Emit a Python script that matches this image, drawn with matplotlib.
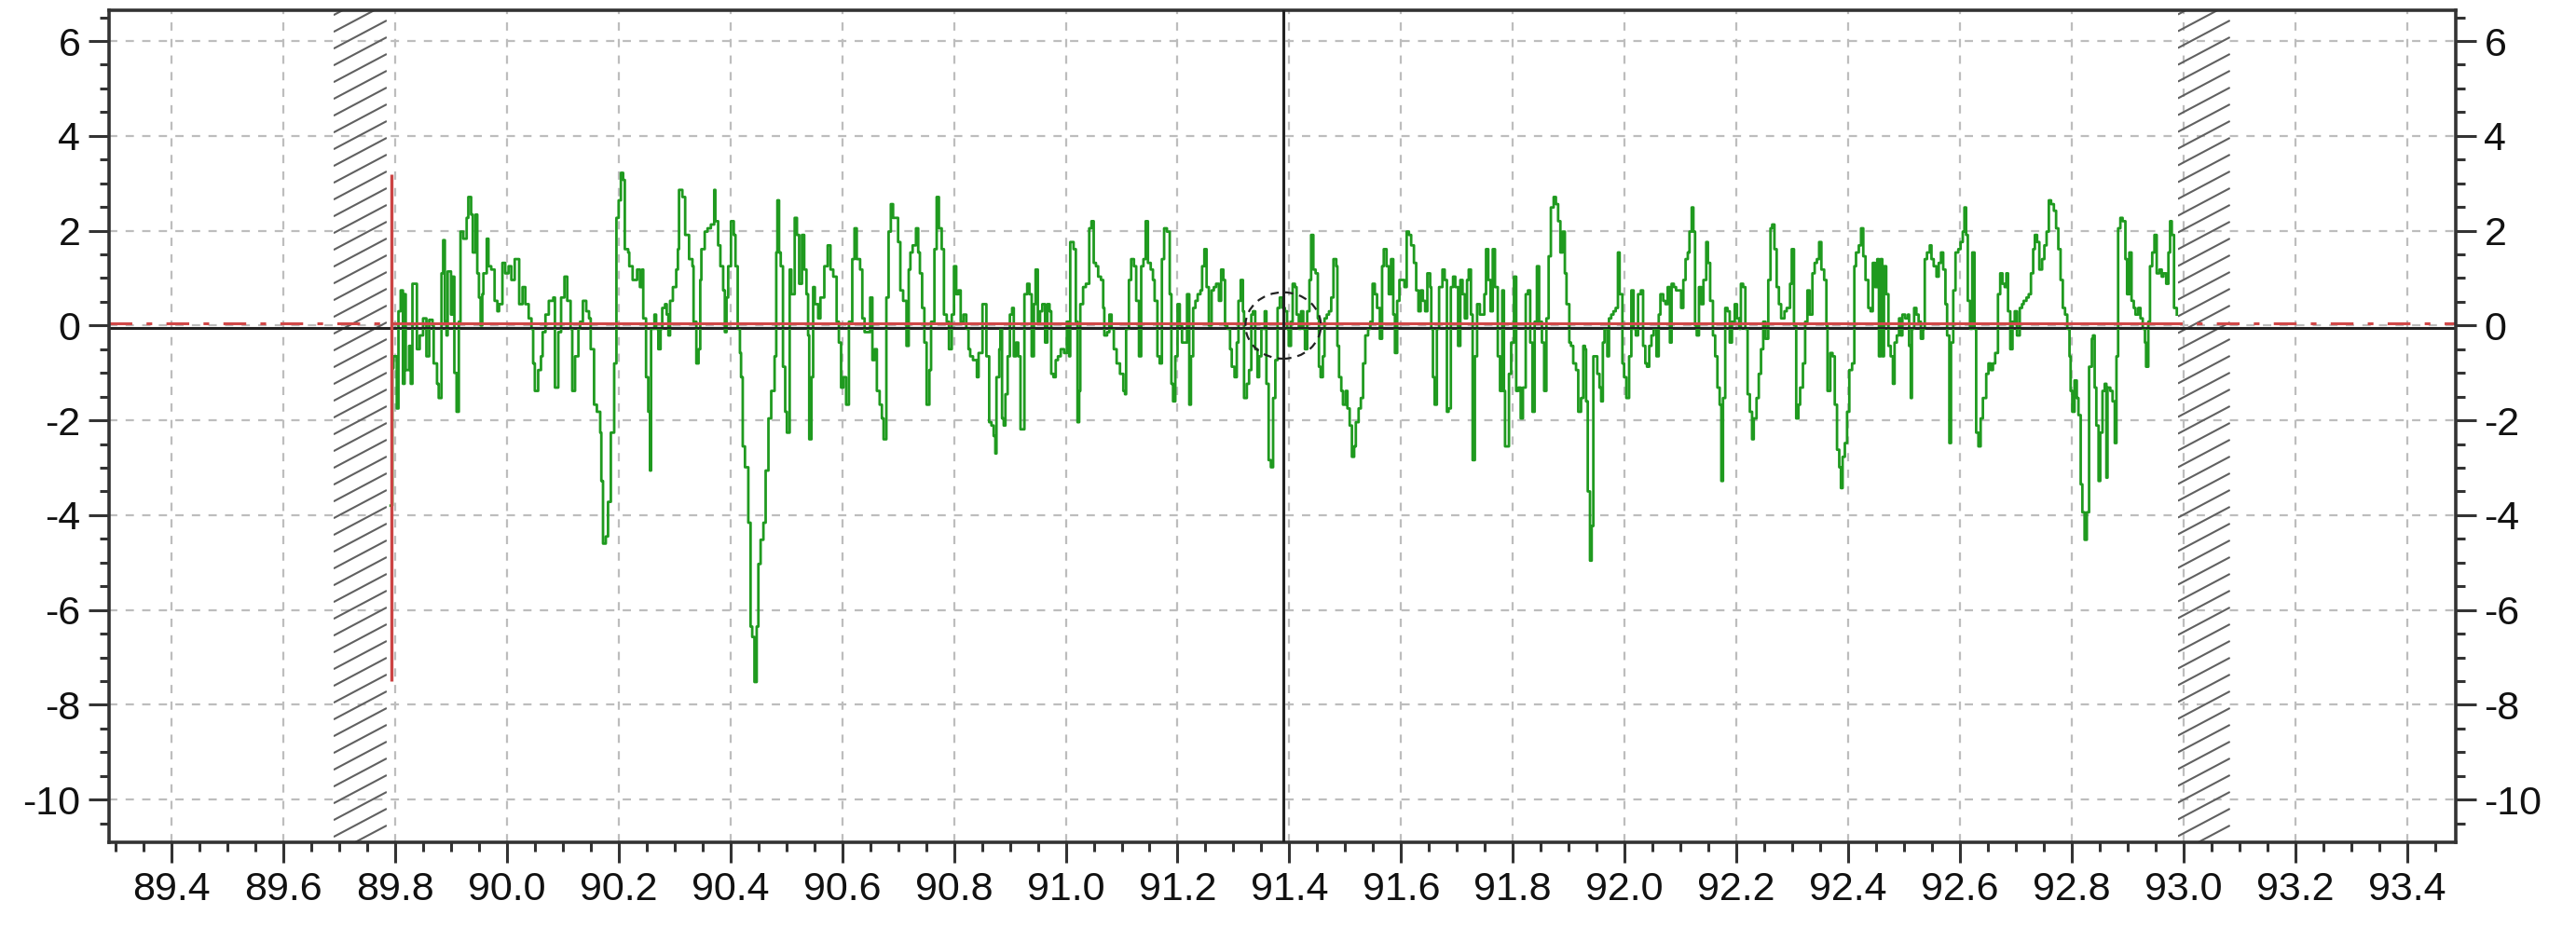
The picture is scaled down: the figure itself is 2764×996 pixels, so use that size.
import matplotlib
matplotlib.use("Agg")
import numpy as np
import matplotlib.pyplot as plt
from matplotlib.patches import Ellipse, Rectangle
from matplotlib.collections import LineCollection
from matplotlib.ticker import MultipleLocator, FormatStrFormatter

# ---------------- data ----------------
seg_a_x = [89.792, 89.795, 89.797, 89.803, 89.806, 89.810, 89.814, 89.817, 89.819, 89.825, 89.828, 89.831, 89.836, 89.839, 89.844, 89.850, 89.856, 89.861, 89.867, 89.869, 89.875, 89.878, 89.883, 89.886, 89.889, 89.892, 89.894, 89.900, 89.903, 89.906, 89.910, 89.914, 89.917, 89.922, 89.928, 89.931, 89.936, 89.939, 89.944, 89.947, 89.950, 89.953, 89.956, 89.958, 89.964, 89.967, 89.972, 89.978, 89.983, 89.986, 89.992, 89.997, 90.003, 90.008, 90.014, 90.019, 90.022, 90.028, 90.033, 90.039, 90.044, 90.047, 90.050, 90.056, 90.061, 90.064, 90.069, 90.075, 90.083, 90.086, 90.092, 90.097, 90.103, 90.108, 90.114, 90.117, 90.122, 90.128, 90.131, 90.136, 90.142, 90.147, 90.150, 90.156, 90.161, 90.167, 90.169, 90.172, 90.177, 90.181, 90.186, 90.192, 90.196, 90.200, 90.204, 90.208, 90.211, 90.217, 90.219, 90.225, 90.228, 90.233, 90.238, 90.242, 90.244, 90.249, 90.253, 90.256, 90.258, 90.264, 90.267, 90.271, 90.275, 90.278, 90.283, 90.286, 90.289, 90.292, 90.297, 90.303, 90.306, 90.308, 90.314, 90.319]
seg_a_y = [-3.8, -0.9, -0.65, -1.75, 0.3, 0.74, -1.23, 0.66, -0.94, -0.43, -1.23, 0.88, 0.88, -0.5, -0.21, 0.15, -0.65, 0.12, 0.0, -0.8, -1.23, -1.53, 1.1, 1.8, 0.08, -0.21, 1.14, 0.23, 1.03, -1.0, -1.82, 0.08, 1.98, 1.83, 2.27, 2.71, 2.34, 1.54, 2.34, 1.10, 0.59, 0.0, 0.66, 1.10, 1.83, 1.25, 1.18, 0.52, 0.30, 0.45, 1.32, 1.10, 1.25, 0.96, 1.40, 1.40, 0.45, 0.81, 0.45, 0.15, -0.07, -0.80, -1.38, -0.94, -0.65, -0.14, 0.23, 0.52, 0.59, -1.31, -0.14, 0.59, 1.03, 0.52, -0.07, -1.38, -0.65, -0.07, 0.08, 0.52, 0.30, 0.15, -0.50, -1.67, -1.82, -2.26, -3.28, -4.60, -4.45, -3.72, -2.26, -0.80, 2.27, 2.64, 3.22, 3.07, 1.61, 1.54, 1.25, 0.96, 0.96, 1.18, 0.81, 1.18, 0.15, -1.09, -1.82, -3.06, -0.07, 0.23, -0.07, -0.50, -0.07, 0.37, 0.45, 0.23, -0.21, 0.52, 0.81, 1.18, 1.61, 2.86, 2.71, 1.91]

seg_b_x = [90.326, 90.332, 90.334, 90.339, 90.343, 90.346, 90.348, 90.354, 90.359, 90.365, 90.371, 90.373, 90.378, 90.382, 90.387, 90.390, 90.393, 90.396, 90.401, 90.406, 90.409, 90.413, 90.417, 90.419, 90.422, 90.426, 90.432, 90.436, 90.439, 90.443, 90.447, 90.450, 90.454, 90.459, 90.463, 90.468, 90.473, 90.479, 90.482, 90.484, 90.487, 90.490, 90.494, 90.498, 90.501, 90.506, 90.509, 90.515, 90.519, 90.523, 90.528, 90.532, 90.536, 90.539, 90.541, 90.545, 90.548, 90.551, 90.557, 90.561, 90.568, 90.574, 90.579, 90.584, 90.590, 90.594, 90.598, 90.602, 90.607, 90.612, 90.618, 90.622, 90.626, 90.632, 90.636, 90.640, 90.646, 90.650, 90.654, 90.658, 90.662, 90.667, 90.671, 90.674, 90.679, 90.683, 90.687, 90.691, 90.696, 90.700, 90.704, 90.709, 90.715, 90.719, 90.722, 90.726, 90.732, 90.736, 90.739, 90.743, 90.747, 90.751, 90.756, 90.759, 90.765, 90.769, 90.773, 90.778, 90.782, 90.787, 90.791, 90.796, 90.800, 90.804, 90.808, 90.812, 90.817, 90.822, 90.826, 90.829, 90.834, 90.841, 90.844, 90.851]
seg_b_y = [1.40, 1.25, 0.08, -0.80, -0.50, 0.96, 1.61, 1.98, 2.05, 2.13, 2.86, 2.20, 1.69, 1.25, 0.74, -0.14, 0.59, 1.25, 2.20, 1.91, 1.25, -0.07, -0.58, -1.09, -2.55, -2.99, -4.16, -6.35, -6.57, -7.52, -6.35, -5.03, -4.52, -4.16, -3.06, -1.96, -1.38, -0.65, 1.54, 2.64, 1.54, 1.25, -0.87, -1.82, -2.26, 1.18, 0.66, 2.27, 1.91, 0.88, 1.91, 1.18, 0.66, -0.21, -2.40, -1.09, 0.81, 0.45, 0.15, 0.59, 1.25, 1.69, 1.18, 1.03, 0.08, -0.36, -1.31, -1.09, -1.67, 0.08, 1.40, 2.05, 1.40, 1.18, 0.15, -0.14, -0.14, 0.59, -0.73, -0.50, -1.38, -1.67, -1.96, -2.40, 0.59, 1.98, 2.56, 2.27, 2.27, 1.76, 0.74, 0.52, -0.43, 1.18, 1.54, 1.69, 2.05, 1.54, 1.10, 0.37, -0.36, -1.67, -0.94, 0.08, 1.61, 2.71, 2.05, 1.61, 0.23, 0.08, -0.50, 0.23, 1.25, 0.66, 0.74, 0.08, 0.23, -0.07, -0.50, -0.65, -0.73, -1.09, -0.58, 0.45]

seg_c_x = [90.858, 90.863, 90.867, 90.871, 90.874, 90.876, 90.881, 90.883, 90.886, 90.889, 90.892, 90.896, 90.900, 90.904, 90.907, 90.911, 90.915, 90.919, 90.922, 90.926, 90.931, 90.935, 90.939, 90.943, 90.946, 90.950, 90.954, 90.958, 90.963, 90.967, 90.971, 90.974, 90.978, 90.982, 90.986, 90.991, 90.997, 91.002, 91.006, 91.008, 91.014, 91.018, 91.021, 91.024, 91.026, 91.031, 91.036, 91.042, 91.046, 91.050, 91.054, 91.058, 91.063, 91.067, 91.069, 91.074, 91.078, 91.082, 91.086, 91.091, 91.097, 91.103, 91.106, 91.108, 91.113, 91.117, 91.122, 91.126, 91.131, 91.135, 91.139, 91.143, 91.147, 91.152, 91.156, 91.159, 91.164, 91.168, 91.172, 91.176, 91.181, 91.186, 91.189, 91.192, 91.196, 91.200, 91.204, 91.208, 91.213, 91.217, 91.221, 91.224, 91.228, 91.232, 91.236, 91.241, 91.244, 91.248, 91.252, 91.256, 91.261, 91.265, 91.269, 91.274, 91.278, 91.282, 91.285, 91.289, 91.294, 91.297, 91.302, 91.306, 91.309, 91.313, 91.317, 91.319, 91.324, 91.328, 91.332, 91.335, 91.339, 91.343, 91.346, 91.350, 91.356, 91.359, 91.363, 91.367, 91.371, 91.375, 91.379, 91.383]
seg_c_y = [-0.65, -2.04, -2.11, -2.33, -2.70, -1.09, -0.50, -0.07, -1.96, -2.11, -1.45, -0.65, 0.23, 0.37, -0.65, -0.36, -0.65, -2.19, -2.19, 0.66, 0.88, 0.66, -0.65, 0.45, 1.18, 0.08, 0.30, 0.45, -0.36, 0.45, 0.30, -1.02, -1.09, -0.73, -0.65, -0.50, -0.58, 0.08, -0.65, 1.76, 1.61, 0.08, -2.04, -1.38, 0.45, 0.81, 0.88, 2.05, 2.20, 1.32, 1.25, 1.03, 0.96, 0.37, -0.21, -0.14, 0.23, -0.07, -0.50, -0.80, -1.02, -1.38, -1.45, -0.07, 0.96, 1.40, 1.25, 0.52, -0.65, 1.25, 1.40, 2.20, 1.32, 1.18, 0.96, 0.52, -0.65, -0.80, 1.40, 2.05, 1.98, 0.66, -1.23, -1.60, -0.65, 0.45, 0.0, -0.36, -0.36, 0.66, -1.67, -0.65, 0.37, 0.52, 0.66, 0.74, 1.25, 1.61, 0.81, 0.0, 0.74, 0.81, 0.88, 0.52, 1.18, 0.96, 0.0, -0.07, -0.50, -0.87, -1.09, -0.36, 0.52, 0.96, 0.30, -1.53, -1.23, -0.94, 0.23, 0.30, -0.50, -1.09, -0.65, -0.07, 0.30, -1.23, -2.84, -2.99, -1.53, -0.73, 0.37, 0.59]

seg_d_x = [91.388, 91.392, 91.396, 91.399, 91.403, 91.406, 91.410, 91.413, 91.417, 91.421, 91.425, 91.428, 91.432, 91.436, 91.439, 91.443, 91.447, 91.451, 91.453, 91.456, 91.460, 91.463, 91.467, 91.471, 91.475, 91.479, 91.484, 91.486, 91.489, 91.493, 91.496, 91.501, 91.504, 91.508, 91.512, 91.516, 91.519, 91.524, 91.528, 91.532, 91.536, 91.541, 91.545, 91.549, 91.553, 91.557, 91.562, 91.566, 91.569, 91.574, 91.578, 91.582, 91.586, 91.589, 91.593, 91.597, 91.602, 91.606, 91.610, 91.614, 91.618, 91.623, 91.627, 91.631, 91.635, 91.639, 91.643, 91.647, 91.652, 91.654, 91.657, 91.660, 91.664, 91.668, 91.674, 91.678, 91.682, 91.685, 91.689, 91.693, 91.697, 91.702, 91.706, 91.710, 91.714, 91.718, 91.721, 91.725, 91.728, 91.732, 91.736, 91.741, 91.745, 91.749, 91.752, 91.756, 91.760, 91.764, 91.768, 91.773, 91.777, 91.781, 91.784, 91.786, 91.789, 91.793, 91.797, 91.802, 91.806, 91.810, 91.814, 91.818, 91.823, 91.827, 91.831, 91.835, 91.839, 91.843, 91.847, 91.852, 91.856, 91.860, 91.864, 91.868, 91.873, 91.877, 91.881, 91.885, 91.889, 91.893, 91.896, 91.901, 91.904, 91.908, 91.913, 91.917]
seg_d_y = [0.37, 0.30, -0.07, -0.43, 0.08, 0.88, 0.81, 0.23, -0.07, 0.30, -0.07, -0.50, 0.30, 0.96, 1.91, 1.18, 1.10, 0.15, -0.87, -1.09, -0.65, 0.15, 0.23, 0.30, 0.59, 1.40, 1.25, -0.43, -1.09, -1.38, -1.67, -1.38, -1.75, -2.11, -2.77, -2.55, -2.04, -1.75, -1.53, -0.80, -0.21, -0.07, 0.08, 0.88, 0.66, 0.37, -0.28, 1.25, 1.61, 1.25, 0.66, 1.40, 0.23, -0.58, 0.52, 0.96, 0.96, 0.81, 1.98, 1.91, 1.69, 1.32, 0.74, 0.30, 0.74, 0.52, 0.30, 1.10, 0.81, -0.07, -1.09, -1.67, -0.07, 0.81, 1.18, 0.96, -1.82, -1.75, 0.81, 1.03, 0.81, -0.43, 0.96, 0.66, 0.15, 0.96, 1.18, 0.23, -2.84, -0.65, 0.45, 0.23, 0.23, 0.66, 1.61, 0.96, 0.30, 1.61, 0.81, -0.65, -1.38, 0.74, -1.38, -2.55, -2.55, -1.02, -0.36, 1.03, -1.38, -1.31, -1.96, -1.31, 0.66, 0.74, -0.36, -1.82, 0.08, 1.25, 0.08, -0.36, -1.38, 0.15, 1.46, 2.49, 2.71, 2.56, 2.20, 1.54, 1.98, 1.10, 0.45, -0.36, -0.43, -0.80, -0.94, -1.82]

seg_e_x = [91.922, 91.926, 91.929, 91.931, 91.934, 91.938, 91.941, 91.944, 91.948, 91.951, 91.955, 91.958, 91.961, 91.964, 91.969, 91.972, 91.976, 91.980, 91.984, 91.988, 91.991, 91.996, 91.999, 92.003, 92.008, 92.012, 92.016, 92.020, 92.024, 92.029, 92.033, 92.037, 92.040, 92.044, 92.048, 92.052, 92.057, 92.061, 92.064, 92.069, 92.073, 92.077, 92.081, 92.084, 92.088, 92.092, 92.097, 92.101, 92.105, 92.109, 92.113, 92.116, 92.120, 92.123, 92.126, 92.129, 92.133, 92.137, 92.141, 92.146, 92.149, 92.153, 92.158, 92.162, 92.166, 92.170, 92.173, 92.176, 92.180, 92.184, 92.188, 92.192, 92.197, 92.201, 92.205, 92.208, 92.212, 92.216, 92.220, 92.224, 92.228, 92.231, 92.236, 92.240, 92.244, 92.248, 92.252, 92.257, 92.261, 92.264, 92.268, 92.272, 92.276, 92.280, 92.286, 92.290, 92.296, 92.299, 92.303, 92.307, 92.311, 92.314, 92.319, 92.323, 92.327, 92.331, 92.336, 92.340, 92.344, 92.348, 92.352, 92.357, 92.361, 92.363, 92.368, 92.372, 92.376, 92.380, 92.384, 92.387, 92.390, 92.394, 92.398, 92.402, 92.407, 92.411, 92.414, 92.419, 92.423, 92.427, 92.431, 92.436, 92.440, 92.444, 92.448, 92.452, 92.455]
seg_e_y = [-1.53, -0.43, -0.50, -1.60, -3.50, -4.96, -4.23, -0.65, -0.65, -1.02, -1.31, -1.60, -0.36, -0.07, -0.65, 0.15, 0.23, 0.30, 0.37, 1.54, 0.66, -0.80, -1.09, -1.53, -0.65, 0.74, -0.07, -0.21, 0.66, 0.74, -0.43, -0.80, -0.87, -0.43, -0.21, -0.07, -0.65, 0.23, 0.66, 0.52, 0.45, 0.81, -0.36, 0.88, 0.81, 0.74, 0.74, 0.37, 0.96, 1.40, 1.54, 1.98, 2.49, 1.98, 0.0, -0.21, 0.81, 0.45, 0.96, 1.76, 1.32, 0.52, -0.21, -0.65, -1.31, -1.67, -3.28, -1.53, 0.37, 0.30, -0.36, 0.08, 0.45, 0.15, -0.07, 0.88, 0.81, -0.07, -1.45, -1.82, -2.40, -1.96, -1.53, -1.02, -0.50, 0.08, -0.28, 0.96, 2.05, 2.13, 1.61, 0.81, 0.45, 0.15, 0.30, 0.37, 0.88, 1.61, 0.0, -1.96, -1.67, -1.31, -0.80, 0.08, 0.74, 0.23, 1.10, 1.32, 1.40, 1.76, 1.18, 0.96, 0.0, -1.38, -0.58, -0.65, -1.67, -2.62, -2.99, -3.43, -2.77, -2.48, -1.82, -0.94, -0.80, 1.25, 1.54, 1.69, 2.05, 1.46, 0.96, 0.37, 0.30, 1.32, 0.81, 1.40, -0.65]

seg_f_x = [92.458, 92.461, 92.464, 92.468, 92.472, 92.476, 92.480, 92.483, 92.487, 92.491, 92.494, 92.497, 92.502, 92.507, 92.509, 92.512, 92.514, 92.518, 92.522, 92.526, 92.530, 92.534, 92.537, 92.541, 92.546, 92.549, 92.553, 92.558, 92.562, 92.566, 92.570, 92.574, 92.577, 92.581, 92.584, 92.588, 92.592, 92.597, 92.601, 92.605, 92.608, 92.611, 92.614, 92.618, 92.622, 92.626, 92.629, 92.633, 92.637, 92.641, 92.647, 92.651, 92.655, 92.659, 92.663, 92.668, 92.672, 92.676, 92.680, 92.683, 92.686, 92.690, 92.694, 92.698, 92.702, 92.707, 92.711, 92.714, 92.719, 92.723, 92.727, 92.731, 92.734, 92.738, 92.742, 92.747, 92.751, 92.755, 92.759, 92.763, 92.768, 92.772, 92.776, 92.780, 92.784, 92.788, 92.792, 92.796, 92.798, 92.801, 92.805, 92.809, 92.812, 92.816, 92.819, 92.823, 92.827, 92.831, 92.836, 92.838, 92.841, 92.844, 92.848, 92.851, 92.855, 92.859, 92.862, 92.864, 92.869, 92.873, 92.877, 92.880, 92.883, 92.887, 92.891, 92.896, 92.899, 92.903, 92.907, 92.911, 92.914, 92.919, 92.923, 92.927, 92.931, 92.933, 92.937, 92.940, 92.944, 92.948, 92.952, 92.957, 92.961, 92.964, 92.969, 92.973, 92.976, 92.979, 92.983, 92.988]
seg_f_y = [1.40, -0.65, 1.25, 0.66, -0.43, -0.65, -1.23, -0.36, -0.21, 0.15, -0.21, 0.23, 0.15, 0.23, -0.43, -1.53, -0.07, 0.37, 0.23, 0.08, -0.28, -0.07, 1.40, 1.54, 1.69, 1.40, 1.25, 1.03, 1.32, 1.54, 1.18, 0.45, -0.21, -2.48, -0.36, 0.74, 1.54, 1.61, 1.76, 1.98, 2.49, 1.91, 0.52, -0.07, 1.54, -0.07, -2.26, -2.55, -1.96, -1.53, -1.02, -0.80, -0.94, -0.80, -0.58, 0.66, 1.10, 0.88, 0.81, 1.10, 0.30, -0.50, 0.08, 0.30, -0.21, 0.37, 0.45, 0.52, 0.59, 0.66, 1.10, 1.61, 1.91, 1.76, 1.18, 1.40, 1.69, 1.98, 2.64, 2.56, 2.42, 2.05, 1.61, 0.96, 0.37, 0.23, -0.07, -0.65, -1.38, -1.82, -1.16, -1.53, -1.89, -3.35, -3.94, -4.52, -3.94, -0.87, -0.28, -0.21, -1.31, -2.11, -3.28, -2.26, -1.38, -1.23, -3.21, -1.31, -1.38, -1.60, -2.48, -0.65, 2.05, 2.27, 2.20, 1.40, 0.66, 1.54, 0.52, 0.37, 0.23, 0.37, 0.15, -0.07, -0.36, -0.87, 0.08, 1.25, 1.54, 1.91, 1.10, 1.18, 1.03, 1.10, 0.88, 1.54, 2.20, 1.91, 0.37, 0.23]

x_ticks = [89.4, 89.6, 89.8, 90.0, 90.2, 90.4, 90.6, 90.8, 91.0, 91.2, 91.4, 91.6, 91.8, 92.0, 92.2, 92.4, 92.6, 92.8, 93.0, 93.2, 93.4]
y_ticks = [-10, -8, -6, -4, -2, 0, 2, 4, 6]
x_limits = (89.288, 93.487)
y_limits = (-10.9, 6.65)

hatch_left = (89.690, 89.785)
hatch_right = (92.990, 93.083)
marker_x = 89.793          # red vertical marker
marker_span = (-7.5, 3.2)
cursor_x = 91.389          # black vertical cursor
ref_level = 0.05           # red reference level
base_level = -0.06         # black base line
data_range = (89.793, 92.990)

# ---------------- build series ----------------
xs, ys = [], []
for sx, sy in [(seg_a_x, seg_a_y), (seg_b_x, seg_b_y), (seg_c_x, seg_c_y),
               (seg_d_x, seg_d_y), (seg_e_x, seg_e_y), (seg_f_x, seg_f_y)]:
    n = min(len(sx), len(sy))
    xs.extend(sx[:n])
    ys.extend(sy[:n])

# ---------------- figure ----------------
plt.rcParams['font.family'] = ['Liberation Sans', 'DejaVu Sans']
plt.rcParams['axes.unicode_minus'] = False

fig = plt.figure(figsize=(27.64, 9.96), dpi=100)
ax = fig.add_axes([0.0423, 0.0924, 0.9110, 0.8966])
ax.set_xlim(*x_limits)
ax.set_ylim(*y_limits)

spine_c = '#333333'
for s in ax.spines.values():
    s.set_color(spine_c)
    s.set_linewidth(2.6)

ax.set_xticks(x_ticks)
ax.set_yticks(y_ticks)
ax.xaxis.set_minor_locator(MultipleLocator(0.05))
ax.yaxis.set_minor_locator(MultipleLocator(0.5))
ax.xaxis.set_major_formatter(FormatStrFormatter('%.1f'))
ax.yaxis.set_major_formatter(FormatStrFormatter('%d'))
ax.tick_params(axis='both', which='major', direction='out', length=16,
               width=2.2, color=spine_c, labelsize=31, pad=6,
               labelcolor='#111111')
ax.tick_params(axis='both', which='minor', direction='out', length=7,
               width=2.2, color=spine_c)
ax.tick_params(axis='y', which='both', left=True, right=True,
               labelleft=True, labelright=True)
ax.tick_params(axis='x', which='both', top=False)

ax.grid(True, which='major', color='#bdbdbd', linestyle=(0, (4, 4)),
        linewidth=1.6, zorder=0)
ax.set_axisbelow(True)

# hatched regions: shallow diagonal lines, clipped to each band
fig.canvas.draw()
p0, p1 = ax.transData.transform([(x_limits[0], 0.0), (x_limits[0] + 1.0, 1.0)])
px_per_x = p1[0] - p0[0]
px_per_y = p1[1] - p0[1]
slope = 0.53 * px_per_x / px_per_y      # data-y per data-x
step = 18.0 / px_per_y                    # vertical spacing in data units
for (h0, h1) in (hatch_left, hatch_right):
    rise = slope * (h1 - h0)
    offsets = np.arange(y_limits[0] - rise, y_limits[1] + step, step)
    segs = [[(h0, c), (h1, c + rise)] for c in offsets]
    clip = Rectangle((h0, y_limits[0]), h1 - h0, y_limits[1] - y_limits[0],
                     transform=ax.transData, facecolor='none', linewidth=0)
    ax.add_patch(clip)
    lc = LineCollection(segs, colors='#606060', linewidths=1.5, zorder=1)
    ax.add_collection(lc)
    lc.set_clip_path(clip)

# reference lines
ax.axhline(ref_level, color='#d04848', linestyle=(0, (8, 5, 2, 5)),
           linewidth=2.2, zorder=2)
ax.axhline(base_level, color='#222222', linewidth=2.2, zorder=2)

# signal
ax.plot(xs, ys, drawstyle='steps-post', color='#1f9a1f', linewidth=2.0,
        zorder=3)

# solid red level within data range
ax.plot(data_range, [ref_level, ref_level], color='#d04848', linewidth=2.2,
        zorder=4)
ax.plot([data_range[0], data_range[1]], [base_level, base_level],
        color='#222222', linewidth=1.6, zorder=4)

# red vertical marker
ax.vlines(marker_x, marker_span[0], marker_span[1], color='#cc4444',
          linewidth=2.4, zorder=4)

# cursor
ax.axvline(cursor_x, color='#222222', linewidth=2.2, zorder=5)
ax.add_patch(Ellipse((cursor_x, 0.0), 0.135, 1.4, fill=False,
                     edgecolor='#222222', linestyle=(0, (4, 3)),
                     linewidth=1.6, zorder=5))

fig.savefig('out.png', dpi=100)
